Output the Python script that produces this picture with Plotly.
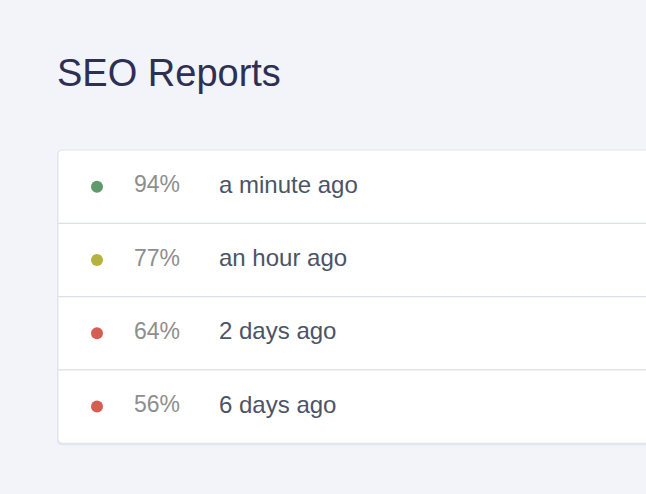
import plotly.graph_objects as go

scores = [94, 77, 64, 56]
times = ["a minute ago", "an hour ago", "2 days ago", "6 days ago"]
dot_colors = ["#5f9a6c", "#b3b33e", "#d65d52", "#d65d52"]

W, H = 646, 494
top, row_h = 150, 73.3
card_left, card_bottom = 58, top + row_h * len(scores)
ys = [top + row_h * (i + 0.5) for i in range(len(scores))]

fig = go.Figure()

def rrect(x0, y0, x1, y1, r):
    return (f"M{x0+r},{y0} L{x1},{y0} L{x1},{y1} L{x0+r},{y1} "
            f"Q{x0},{y1} {x0},{y1-r} L{x0},{y0+r} Q{x0},{y0} {x0+r},{y0} Z")

shapes = [
    dict(type="path", path=rrect(card_left - 1, top, 700, card_bottom + 2, 5),
         fillcolor="#e3e6ee", line=dict(width=0), layer="below"),
    dict(type="path", path=rrect(card_left, top, 700, card_bottom, 5),
         fillcolor="white", line=dict(color="#e2e4ea", width=1), layer="below"),
]
for i in range(1, len(scores)):
    y = top + row_h * i
    shapes.append(dict(type="line", x0=card_left, x1=700, y0=y, y1=y,
                       line=dict(color="#dcdfe5", width=1.2)))

fig.add_trace(go.Scatter(x=[97] * len(scores), y=ys, mode="markers",
                         marker=dict(size=12, color=dot_colors), hoverinfo="skip"))
fig.add_trace(go.Scatter(x=[134] * len(scores), y=ys, mode="text",
                         text=[f"{s}%" for s in scores], textposition="middle right",
                         textfont=dict(size=23, color="#8e8e8e", family="Helvetica, Arial, sans-serif"),
                         hoverinfo="skip"))
fig.add_trace(go.Scatter(x=[219] * len(scores), y=ys, mode="text",
                         text=times, textposition="middle right",
                         textfont=dict(size=24, color="#4b5466", family="Helvetica, Arial, sans-serif"),
                         hoverinfo="skip"))

fig.add_annotation(x=55, y=73, text="SEO Reports", showarrow=False, xanchor="left",
                   yanchor="middle", font=dict(size=38, color="#2d2f55", family="Helvetica, Arial, sans-serif"))

fig.update_layout(width=W, height=H, margin=dict(l=0, r=0, t=0, b=0),
                  paper_bgcolor="#f2f4f9", plot_bgcolor="#f2f4f9", showlegend=False,
                  shapes=shapes,
                  xaxis=dict(range=[0, W], visible=False, fixedrange=True),
                  yaxis=dict(range=[H, 0], visible=False, fixedrange=True))
fig.write_html("out.html", config={"displayModeBar": False},
               post_script="document.body.style.margin='0';document.body.style.background='#f2f4f9';document.body.style.overflow='hidden';")
